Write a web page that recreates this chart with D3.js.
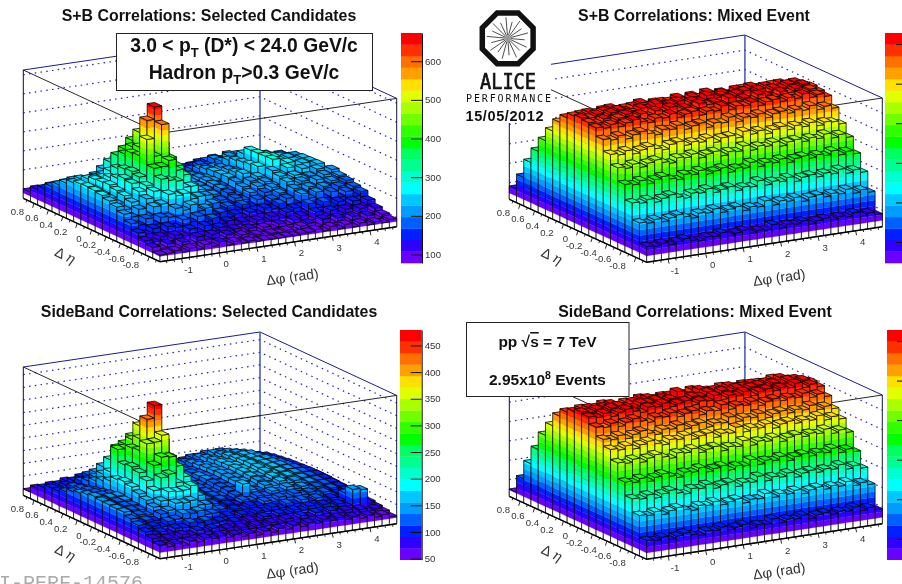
<!DOCTYPE html>
<html>
<head>
<meta charset="utf-8">
<script src="https://cdnjs.cloudflare.com/ajax/libs/d3/7.8.5/d3.min.js"></script>
<style>
  html, body { margin: 0; padding: 0; background: #fff; overflow: hidden; }
  svg { display: block; filter: blur(0.3px); font-family: "Liberation Sans", Arial, sans-serif; }
</style>
</head>
<body>
<div id="wrapper"></div>
<script>
// Data: rows run from eta = +0.95 (back left) to -0.95 (front), columns over phi
const etaEdges = [0.95, 0.85, 0.75, 0.65, 0.55, 0.45, 0.35, 0.25, 0.15, 0.05, -0.05, -0.15, -0.25, -0.35, -0.45, -0.55, -0.65, -0.75, -0.85, -0.95];
const phiBins = 32;
const phiDomain = [-Math.PI / 2, (3 * Math.PI) / 2];
const etaTicks = [0.8, 0.6, 0.4, 0.2, 0, -0.2, -0.4, -0.6, -0.8];
const etaMinorTicks = [0.9, 0.7, 0.5, 0.3, 0.1, -0.1, -0.3, -0.5, -0.7, -0.9];
const phiTicks = [-1, 0, 1, 2, 3, 4];
const phiMinorTicks = [-1.4, -1.2, -0.8, -0.6, -0.4, -0.2, 0.2, 0.4, 0.6, 0.8, 1.2, 1.4, 1.6, 1.8, 2.2, 2.4, 2.6, 2.8, 3.2, 3.4, 3.6, 3.8, 4.2, 4.4, 4.6];
const palette = ['#6a00ff', '#3000ff', '#0020ff', '#0060ff', '#009cff', '#00c8ff', '#00ffff', '#00ffd0', '#00ff90', '#00ff60', '#00ff00', '#30ff00', '#70ff00', '#a8ff00', '#e0ff00', '#ffe000', '#ffa000', '#ff7000', '#ff3000', '#ff0000'];

const sbSelected = [
  [100,96,104,92,102,94,88,98,92,86,94,84,90,80,86,92,84,82,96,90,88,106,112,102,118,106,112,100,108,92,100,88],
  [132,126,138,122,118,132,128,114,124,126,108,118,112,102,116,100,110,118,104,124,130,122,146,136,156,144,134,146,126,118,132,116],
  [153,144,162,158,140,150,168,154,172,150,160,134,144,116,130,124,112,138,130,134,156,146,170,178,160,182,160,150,162,140,154,134],
  [181,172,190,164,184,178,204,192,222,190,186,158,166,138,148,134,152,140,162,152,180,170,198,186,210,204,180,196,170,184,160,172],
  [208,196,220,190,214,216,256,264,288,250,240,192,186,158,172,150,170,164,186,160,184,176,204,226,200,216,190,204,178,192,168,178],
  [234,216,244,206,238,250,310,328,362,312,288,220,210,176,192,166,188,180,206,172,204,194,228,210,250,222,208,224,196,214,184,194],
  [254,232,262,222,258,286,362,390,430,372,334,250,224,188,204,178,198,190,220,188,218,204,244,222,286,228,252,210,232,206,224,190],
  [265,244,276,234,276,318,388,420,490,416,364,270,240,198,216,186,206,198,228,192,224,212,252,230,288,232,258,214,244,206,230,198],
  [268,246,280,238,290,332,410,436,515,432,384,284,248,204,214,190,208,202,230,196,228,214,258,236,290,238,256,220,242,212,232,196],
  [265,240,284,228,306,338,415,595,660,460,380,278,252,196,212,186,206,194,232,190,240,206,266,226,292,228,264,212,250,200,234,192],
  [258,236,272,222,298,326,518,424,585,388,356,272,244,194,208,180,202,190,226,186,218,236,208,256,230,260,216,244,202,230,196,216],
  [246,226,262,210,272,298,384,386,414,356,326,256,236,186,200,170,196,180,216,178,208,226,202,244,224,238,214,222,198,218,190,202],
  [232,212,246,204,252,286,344,332,322,284,284,228,224,176,188,164,186,172,204,170,194,214,188,232,208,224,194,220,186,204,178,194],
  [212,192,226,186,228,236,282,268,274,240,248,198,200,160,174,148,170,156,186,154,176,202,172,214,188,212,178,202,168,192,162,180],
  [180,166,194,158,190,184,226,210,232,194,204,164,170,138,150,126,148,134,158,148,170,192,160,204,176,202,166,192,158,182,150,170],
  [148,136,160,128,158,148,184,166,190,156,168,134,142,118,128,104,124,110,132,118,142,158,130,170,142,168,138,158,126,150,118,142],
  [125,112,136,106,130,122,152,132,158,124,138,110,118,98,110,86,104,92,110,98,120,136,106,144,116,142,112,136,104,128,96,120],
  [108,96,116,88,112,98,128,108,130,100,118,92,104,84,94,82,90,84,94,84,104,114,90,124,96,120,94,116,88,108,86,104],
  [85,88,96,82,98,86,106,90,108,84,98,84,90,82,84,82,82,86,82,88,90,98,84,102,84,102,82,98,82,92,82,94]
];

const sbMixed = [
  [83,88,80,86,82,90,84,79,87,92,85,81,89,83,78,86,90,84,88,82,79,85,91,86,80,84,89,83,87,81,86,82],
  [161,155,166,158,150,163,170,157,162,153,168,160,156,165,152,159,167,161,154,163,158,170,155,160,149,164,158,166,152,161,156,150],
  [255,248,262,250,244,258,265,252,246,260,254,268,247,256,263,250,242,258,266,251,259,245,262,254,248,264,253,247,260,250,256,244],
  [330,322,336,328,340,320,334,326,342,330,318,337,329,323,344,331,325,338,320,333,327,345,322,335,329,319,340,326,334,322,331,325],
  [402,395,410,398,388,406,414,400,392,408,403,396,416,399,389,405,412,394,409,401,418,393,404,398,411,390,406,400,413,396,402,392],
  [469,462,476,458,470,480,465,456,473,468,482,460,471,464,454,477,466,484,461,472,457,469,479,463,474,459,482,467,460,475,462,458],
  [531,522,538,528,542,520,535,526,546,530,524,540,518,533,544,527,536,521,548,529,539,523,534,545,525,537,528,543,519,532,526,516],
  [571,565,578,560,574,584,568,558,576,570,586,563,572,580,556,574,566,588,561,577,569,583,559,573,585,564,578,567,582,562,570,556],
  [597,590,604,586,600,610,594,584,602,614,592,605,588,598,612,586,604,595,616,590,602,587,608,596,612,591,603,588,606,594,600,584],
  [605,598,612,594,608,618,600,592,610,602,620,596,607,616,593,606,599,622,603,612,595,609,618,601,614,596,610,604,619,597,606,590],
  [597,588,606,584,598,612,592,602,586,608,596,614,590,600,585,610,598,606,588,616,594,604,590,611,600,586,608,597,613,590,598,582],
  [588,580,594,576,590,600,584,574,592,586,602,578,590,598,572,588,582,604,578,592,586,600,576,590,596,580,594,584,602,578,588,572],
  [545,536,552,530,546,556,540,528,550,544,560,534,546,554,526,544,538,562,532,550,542,556,530,546,552,536,550,540,558,532,544,528],
  [485,476,492,470,484,496,480,468,490,498,474,486,478,494,466,484,488,472,500,480,492,470,486,496,474,490,478,494,472,486,480,464],
  [433,424,440,418,434,444,426,416,438,432,446,420,434,442,414,430,424,448,420,436,428,444,418,434,440,424,438,428,446,420,432,412],
  [364,356,372,350,366,376,358,348,370,362,378,354,364,374,346,362,356,380,352,368,360,374,350,366,372,356,368,358,376,350,362,344],
  [286,278,292,272,286,298,280,270,290,284,300,276,286,294,268,282,276,302,274,288,280,296,270,286,292,276,290,280,298,272,284,266],
  [200,192,206,188,202,212,196,184,204,198,214,190,200,208,182,196,190,216,188,204,196,210,184,200,206,190,202,194,212,186,198,180],
  [95,90,100,86,96,106,92,84,98,94,108,88,96,104,82,92,88,110,86,100,94,106,84,96,102,90,100,92,108,86,96,82]
];

const sideSelected = [
  [50,56,52,60,54,66,58,70,62,68,56,62,54,60,56,66,58,68,60,70,66,74,68,80,70,72,62,68,56,60,50,54],
  [77,70,80,76,88,82,94,88,94,82,86,76,82,76,88,80,90,84,96,90,100,96,106,102,104,94,100,86,88,74,76,62],
  [92,84,96,88,102,100,116,112,120,102,106,88,96,88,100,94,106,100,114,108,124,118,130,122,130,114,118,102,102,84,88,70],
  [105,94,106,98,114,116,140,142,154,130,124,100,108,100,112,104,120,114,128,124,138,132,146,134,142,126,130,112,112,94,94,74],
  [105,100,114,106,128,138,176,192,210,172,148,114,116,106,118,112,126,120,136,132,148,142,154,146,152,136,140,118,118,98,98,78],
  [116,108,120,114,142,164,216,241,262,220,178,130,124,112,124,116,130,126,142,138,154,148,162,150,158,142,142,122,122,102,102,82],
  [129,116,126,120,156,186,276,288,312,258,206,146,130,116,124,118,134,130,146,142,158,154,166,154,160,146,148,126,126,104,104,86],
  [136,122,130,126,168,288,288,318,368,296,230,156,134,118,126,120,136,132,148,144,160,156,170,158,162,146,148,128,128,106,106,88],
  [144,128,134,134,186,240,302,335,394,316,246,168,138,120,126,120,136,132,150,146,162,156,172,158,164,148,150,130,130,108,108,90],
  [150,134,138,140,192,246,306,425,475,334,264,176,142,120,124,118,134,130,148,144,162,156,170,158,164,146,148,128,128,108,108,90],
  [145,130,134,136,184,236,346,348,371,280,238,170,138,118,122,116,132,128,146,142,158,154,168,156,160,144,146,126,126,106,106,88],
  [144,126,132,130,170,218,274,302,298,258,212,156,134,114,120,114,130,126,142,138,154,148,162,150,156,138,140,122,122,102,104,86],
  [142,124,128,124,158,192,238,248,210,192,186,142,128,112,118,112,126,166,138,132,148,142,156,144,150,134,136,118,120,100,102,84],
  [142,120,122,116,144,164,196,192,194,207,164,128,122,106,112,106,120,114,128,124,138,132,146,134,140,126,130,112,116,96,100,82],
  [128,110,114,108,130,140,164,160,166,144,142,116,114,98,106,100,112,106,120,114,128,122,134,124,130,116,122,104,108,92,96,80],
  [116,98,104,96,114,118,136,132,138,120,120,100,102,88,98,90,102,96,110,102,116,110,122,112,120,106,112,96,122,86,92,76],
  [103,88,94,84,100,98,114,108,114,98,102,86,92,80,90,82,94,86,98,92,104,98,110,100,108,94,102,88,150,144,86,70],
  [90,76,82,74,88,82,96,88,96,82,88,74,82,72,82,74,84,76,90,82,94,86,98,88,96,84,90,78,84,72,78,64],
  [77,66,74,62,76,68,80,72,80,68,76,64,72,60,72,62,74,66,78,68,80,72,84,74,82,70,78,66,74,62,68,56]
];

const sideMixed = [
  [52,56,48,54,60,50,57,62,53,49,58,55,51,60,47,54,59,52,56,61,50,55,48,58,53,60,49,56,52,47,55,50],
  [138,130,144,126,138,148,132,124,142,136,150,128,138,146,122,134,128,152,126,140,132,146,124,138,144,128,140,132,150,124,136,120],
  [233,226,240,220,234,246,228,216,238,232,248,224,234,242,214,230,224,250,220,236,228,244,218,234,240,224,236,228,246,218,232,212],
  [324,316,332,310,326,338,318,308,330,324,340,314,326,334,306,322,316,342,312,328,320,336,308,324,332,314,328,318,338,310,322,304],
  [414,406,422,400,416,428,408,398,420,412,430,404,416,424,396,412,406,432,402,418,410,426,398,414,422,404,418,408,428,400,412,394],
  [481,472,488,466,482,494,476,464,486,480,496,470,482,490,462,478,472,498,468,484,476,492,464,480,488,472,484,476,494,466,478,460],
  [547,538,554,532,548,558,542,530,552,546,562,536,548,556,528,544,538,564,534,550,542,558,530,546,554,538,550,542,560,532,544,526],
  [585,576,592,570,586,598,580,568,590,584,600,574,586,594,566,582,576,602,572,588,580,596,568,584,592,576,588,580,598,570,582,564],
  [605,596,612,590,606,616,600,588,610,604,618,594,606,614,586,602,596,620,592,608,600,616,588,604,612,596,608,600,618,590,602,584],
  [619,610,622,604,618,624,612,602,620,616,625,606,618,650,600,614,608,625,604,620,612,624,602,616,622,608,620,612,625,604,614,598],
  [611,602,618,596,612,622,606,594,616,610,624,600,612,620,592,608,602,625,598,614,606,622,594,610,618,602,614,606,624,596,608,590],
  [576,568,584,562,578,590,572,560,582,576,592,566,578,586,558,574,568,594,564,580,572,588,560,576,584,568,580,572,590,562,574,556],
  [530,522,538,516,532,544,526,514,536,530,546,520,532,540,512,528,522,548,518,534,526,542,514,530,538,522,534,526,544,516,528,510],
  [495,486,502,480,496,508,490,478,500,494,510,484,496,504,476,492,486,512,482,498,490,506,478,494,502,486,498,490,508,480,492,474],
  [443,434,450,428,444,456,438,426,448,442,458,432,444,452,424,440,434,460,430,446,438,454,426,442,450,434,446,438,456,428,440,422],
  [361,352,368,346,362,374,356,344,366,360,376,350,362,370,342,358,352,378,348,364,356,372,344,360,368,352,364,356,374,346,358,340],
  [292,284,300,278,294,306,286,276,298,292,308,282,294,302,274,290,284,310,280,296,288,304,276,292,300,284,296,288,306,278,290,272],
  [223,216,230,210,224,234,218,208,228,222,236,214,224,232,206,220,216,238,212,226,218,232,208,222,230,214,226,218,236,210,220,204],
  [110,104,116,98,110,120,106,96,114,108,122,102,110,118,94,106,102,124,98,112,106,120,96,110,116,102,112,106,122,98,108,92]
];

// Panel setup, all corners in page pixels
const panels = [
  { title: 'S+B Correlations: Selected Candidates', titleX: 209, titleY: 21, values: sbSelected,
    left: [23.3, 198.3], front: [160, 261.7], right: [396.7, 226.7], height: 128.3, phiTitleDy: 20,
    zDomain: [50, 725], colorDomain: [78, 673], gridTicks: [100, 200, 300, 400, 500, 600, 700],
    barX: [401, 422], barY: [263, 33], barTicks: [100, 200, 300, 400, 500, 600], labels: true },
  { title: 'S+B Correlations: Mixed Event', titleX: 694, titleY: 21, values: sbMixed,
    left: [509.3, 199.3], front: [646.7, 262.3], right: [882.3, 226.7], height: 128.7, phiTitleDy: 20,
    zDomain: [14, 678], colorDomain: [47, 628], gridTicks: [100, 200, 300, 400, 500, 600],
    barX: [885, 907], barY: [263, 33], barTicks: [100, 200, 300, 400, 500, 600], labels: false },
  { title: 'SideBand Correlations: Selected Candidates', titleX: 209, titleY: 317, values: sideSelected,
    left: [23.3, 495.3], front: [160, 558.7], right: [396.7, 523.7], height: 128.3, phiTitleDy: 16.5,
    zDomain: [24, 530], colorDomain: [48, 479], gridTicks: [50, 100, 150, 200, 250, 300, 350, 400, 450, 500],
    barX: [400, 421.7], barY: [559.7, 330], barTicks: [50, 100, 150, 200, 250, 300, 350, 400, 450], labels: true },
  { title: 'SideBand Correlations: Mixed Event', titleX: 695, titleY: 317, values: sideMixed,
    left: [509.3, 496.3], front: [646.7, 559.3], right: [882.3, 523.7], height: 128.7, phiTitleDy: 16.5,
    zDomain: [14, 678], colorDomain: [47, 628], gridTicks: [100, 200, 300, 400, 500, 600],
    barX: [887, 908], barY: [559.7, 330], barTicks: [100, 200, 300, 400, 500, 600], labels: false },
];

const width = 902;
const height = 584;

const svg = d3
  .select('#wrapper')
  .append('svg')
  .attr('width', width)
  .attr('height', height);

const phiU = d3.scaleLinear().domain(phiDomain).range([0, 1]);
const etaV = d3.scaleLinear().domain([etaEdges[0], etaEdges[etaEdges.length - 1]]).range([0, 1]);
const phiEdges = d3.range(phiBins + 1).map((i) => phiDomain[0] + (i * (phiDomain[1] - phiDomain[0])) / phiBins);
const lineGen = d3.line();

panels.forEach(drawPanel);
drawDecorations();

function drawPanel(p) {
  const zW = d3.scaleLinear().domain(p.zDomain).range([0, p.height]);
  const band = d3.scaleQuantize().domain(p.colorDomain).range(palette);
  const bandStep = (p.colorDomain[1] - p.colorDomain[0]) / palette.length;
  const levels = d3.range(palette.length + 1).map((i) => p.colorDomain[0] + i * bandStep);

  // phi, eta, z to page position (parallel projection)
  const project = (phi, eta, z) => {
    const u = phiU(phi);
    const v = etaV(eta);
    return [
      p.left[0] + v * (p.front[0] - p.left[0]) + u * (p.right[0] - p.front[0]),
      p.left[1] + v * (p.front[1] - p.left[1]) + u * (p.right[1] - p.front[1]) - zW(z),
    ];
  };
  const [z0, z1] = p.zDomain;
  const [phi0, phi1] = phiDomain;
  const etaHi = etaEdges[0];
  const etaLo = etaEdges[etaEdges.length - 1];
  const g = svg.append('g');

  const stroke = (pts, color, w, dash) =>
    g.append('path')
      .attr('d', lineGen(pts))
      .attr('fill', 'none')
      .attr('stroke', color)
      .attr('stroke-width', w)
      .attr('stroke-dasharray', dash);

  // Back walls
  const navy = '#1c1c8c';
  p.gridTicks.forEach((z) => {
    stroke([project(phi0, etaHi, z), project(phi1, etaHi, z), project(phi1, etaLo, z)], '#2222a8', 1.2, '1.5 4.3');
  });
  stroke([project(phi0, etaHi, z1), project(phi1, etaHi, z1), project(phi1, etaLo, z1)], navy, 1);
  stroke([project(phi1, etaHi, z0), project(phi1, etaHi, z1)], '#3a44b8', 1.4);
  stroke([project(phi0, etaHi, z0), project(phi0, etaHi, z1)], '#111', 1);
  stroke([project(phi1, etaLo, z0), project(phi1, etaLo, z1)], '#14143c', 1);
  stroke([project(phi0, etaHi, z1), project(phi0, etaLo, z1), project(phi1, etaLo, z1)], '#111', 0.9);

  // Bars, back to front
  const bars = g.append('g').attr('stroke-linejoin', 'round');
  const poly = (pts, fill) =>
    bars.append('path').attr('d', lineGen(pts) + 'Z').attr('fill', fill).attr('stroke', fill).attr('stroke-width', 0.25);
  const outline = (pts) =>
    bars.append('path').attr('d', lineGen(pts) + 'Z').attr('fill', 'none').attr('stroke', '#000').attr('stroke-width', 0.75);

  // side face split into colour bands between zFrom and zTo
  const side = (a, b, zFrom, zTo) => {
    if (zTo <= zFrom) return;
    const cuts = [zFrom, ...levels.filter((l) => l > zFrom && l < zTo), zTo];
    d3.pairs(cuts).forEach(([lo, hi]) => {
      const color = hi <= p.colorDomain[0] ? '#fff' : band((lo + hi) / 2);
      poly([project(a[0], a[1], lo), project(b[0], b[1], lo), project(b[0], b[1], hi), project(a[0], a[1], hi)], color);
    });
    outline([project(a[0], a[1], zFrom), project(b[0], b[1], zFrom), project(b[0], b[1], zTo), project(a[0], a[1], zTo)]);
  };

  p.values.forEach((row, r) => {
    for (let c = row.length - 1; c >= 0; c--) {
      const z = row[c];
      const pa = phiEdges[c];
      const pb = phiEdges[c + 1];
      const ea = etaEdges[r];
      const eb = etaEdges[r + 1];
      const zLeft = c > 0 ? Math.min(row[c - 1], z) : z0;
      const zFront = r < p.values.length - 1 ? Math.min(p.values[r + 1][c], z) : z0;
      side([pa, ea], [pa, eb], zLeft, z);
      side([pa, eb], [pb, eb], zFront, z);
      const top = [project(pa, ea, z), project(pb, ea, z), project(pb, eb, z), project(pa, eb, z)];
      poly(top, band(z));
      outline(top);
    }
  });

  // Floor axes and ticks
  stroke([project(phi0, etaHi, z0), project(phi0, etaLo, z0), project(phi1, etaLo, z0)], '#000', 1.4);
  const tick = (pos, dx, dy) =>
    g.append('line')
      .attr('x1', pos[0]).attr('y1', pos[1])
      .attr('x2', pos[0] + dx).attr('y2', pos[1] + dy)
      .attr('stroke', '#111').attr('stroke-width', 0.9);

  etaTicks.forEach((e) => {
    const pos = project(phi0, e, z0);
    tick(pos, -1.5, 4.5);
    g.append('text')
      .attr('x', pos[0] - 10)
      .attr('y', pos[1] + 11.5)
      .attr('text-anchor', 'end')
      .attr('font-size', 9.6)
      .attr('fill', '#333')
      .text(String(e));
  });
  etaMinorTicks.forEach((e) => tick(project(phi0, e, z0), -0.8, 2.4));

  phiTicks.forEach((f) => {
    const pos = project(f, etaLo, z0);
    tick(pos, 1, 4.5);
    g.append('text')
      .attr('x', pos[0] + 7)
      .attr('y', pos[1] + 14.5)
      .attr('text-anchor', 'middle')
      .attr('font-size', 9.6)
      .attr('fill', '#333')
      .text(f);
  });
  phiMinorTicks.forEach((f) => tick(project(f, etaLo, z0), 0.5, 2.4));

  // Axis titles
  const fx = p.front[0];
  const fy = p.front[1];
  g.append('text')
    .attr('transform', `translate(${fx - 97}, ${fy - 2}) rotate(26)`)
    .attr('text-anchor', 'middle')
    .attr('font-size', 14)
    .attr('fill', '#333')
    .html('Δ <tspan font-style="italic" font-family="DejaVu Serif">η</tspan>');
  g.append('text')
    .attr('transform', `translate(${fx + 133}, ${fy + p.phiTitleDy}) rotate(-8)`)
    .attr('text-anchor', 'middle')
    .attr('font-size', 14)
    .attr('fill', '#333')
    .html('Δ<tspan font-family="DejaVu Serif">φ</tspan> (rad)');

  // Title
  g.append('text')
    .attr('x', p.titleX)
    .attr('y', p.titleY)
    .attr('text-anchor', 'middle')
    .attr('font-size', 15.9)
    .attr('font-weight', 'bold')
    .attr('fill', '#111')
    .text(p.title);

  // Colour bar
  const barScale = d3.scaleLinear().domain(p.colorDomain).range(p.barY);
  g.append('g')
    .selectAll('rect')
    .data(palette)
    .join('rect')
    .attr('x', p.barX[0])
    .attr('width', p.barX[1] - p.barX[0])
    .attr('y', (d, i) => barScale(levels[i + 1]))
    .attr('height', (d, i) => barScale(levels[i]) - barScale(levels[i + 1]) + 0.3)
    .attr('fill', (d) => d);

  const barAxis = d3
    .axisRight(barScale)
    .tickValues(p.barTicks)
    .tickSizeInner(-11)
    .tickSizeOuter(0)
    .tickPadding(3)
    .tickFormat(p.labels ? d3.format('d') : '');
  const axisG = g.append('g')
    .attr('transform', `translate(${p.barX[1]}, 0)`)
    .call(barAxis);
  axisG.selectAll('line').attr('stroke', '#111').attr('stroke-width', 1);
  axisG.select('.domain').attr('stroke', '#111');
  axisG.selectAll('text').attr('font-size', 9.6).attr('fill', '#333').attr('font-family', '"Liberation Sans", Arial, sans-serif');
}

function drawDecorations() {
  // Kinematic box, first panel
  svg.append('rect')
    .attr('x', 116.5).attr('y', 33.5).attr('width', 256).attr('height', 57)
    .attr('fill', '#fff').attr('stroke', '#222').attr('stroke-width', 1);
  const sub = '<tspan dy="5" font-size="13">T</tspan><tspan dy="-5">';
  svg.append('text').attr('x', 244).attr('y', 51.5).attr('text-anchor', 'middle')
    .attr('font-size', 19.3).attr('font-weight', 'bold').attr('fill', '#111')
    .html(`3.0 &lt; p${sub} (D*) &lt; 24.0 GeV/c</tspan>`);
  svg.append('text').attr('x', 244).attr('y', 79.3).attr('text-anchor', 'middle')
    .attr('font-size', 19.3).attr('font-weight', 'bold').attr('fill', '#111')
    .html(`Hadron p${sub}&gt;0.3 GeV/c</tspan>`);

  // pp box, last panel
  svg.append('rect')
    .attr('x', 466.5).attr('y', 322.5).attr('width', 162.5).attr('height', 74)
    .attr('fill', '#fff').attr('stroke', '#222').attr('stroke-width', 1);
  svg.append('text').attr('x', 547.5).attr('y', 347).attr('text-anchor', 'middle')
    .attr('font-size', 15.5).attr('font-weight', 'bold').attr('fill', '#111')
    .html('pp √<tspan text-decoration="overline">s</tspan> = 7 TeV');
  svg.append('text').attr('x', 547.5).attr('y', 384.5).attr('text-anchor', 'middle')
    .attr('font-size', 15.5).attr('font-weight', 'bold').attr('fill', '#111')
    .html('2.95x10<tspan dy="-6" font-size="10.5">8</tspan><tspan dy="6"> Events</tspan>');

  // ALICE logo
  svg.append('rect').attr('x', 464).attr('y', 6).attr('width', 87).attr('height', 117).attr('fill', '#fff');
  const cx = 507.7;
  const cy = 38.3;
  const octagon = d3.range(8).map((i) => {
    const a = Math.PI / 8 + (i * Math.PI) / 4;
    return [cx + 27.5 * Math.cos(a), cy + 27.5 * Math.sin(a)];
  });
  svg.append('path').attr('d', lineGen(octagon) + 'Z').attr('fill', '#fff').attr('stroke', '#111').attr('stroke-width', 5.5);
  d3.range(18).forEach((i) => {
    const a = (i * Math.PI) / 9 + 0.09;
    svg.append('line')
      .attr('x1', cx + 3 * Math.cos(a)).attr('y1', cy + 3 * Math.sin(a))
      .attr('x2', cx + (i % 2 ? 21 : 17) * Math.cos(a)).attr('y2', cy + (i % 2 ? 21 : 17) * Math.sin(a))
      .attr('stroke', '#222').attr('stroke-width', 0.8);
  });
  svg.append('circle').attr('cx', cx).attr('cy', cy).attr('r', 3).attr('fill', '#999');
  svg.append('text').attr('x', 480).attr('y', 88.5)
    .attr('font-family', '"DejaVu Sans Mono"').attr('font-size', 22).attr('fill', '#111')
    .attr('stroke', '#111').attr('stroke-width', 0.7)
    .attr('textLength', 56).attr('lengthAdjust', 'spacingAndGlyphs').text('ALICE');
  svg.append('text').attr('x', 466).attr('y', 102)
    .attr('font-family', '"DejaVu Sans Mono"').attr('font-size', 10).attr('fill', '#111')
    .attr('textLength', 85).text('PERFORMANCE');
  svg.append('text').attr('x', 465.5).attr('y', 120.5)
    .attr('font-size', 14.5).attr('font-weight', 'bold').attr('fill', '#111')
    .attr('textLength', 78).text('15/05/2012');

  // Clipped figure id in the corner
  svg.append('text').attr('x', -25).attr('y', 589)
    .attr('font-family', '"Liberation Mono", monospace').attr('font-size', 20).attr('fill', '#aaa')
    .text('ALI-PERF-14576');
}
</script>
</body>
</html>
